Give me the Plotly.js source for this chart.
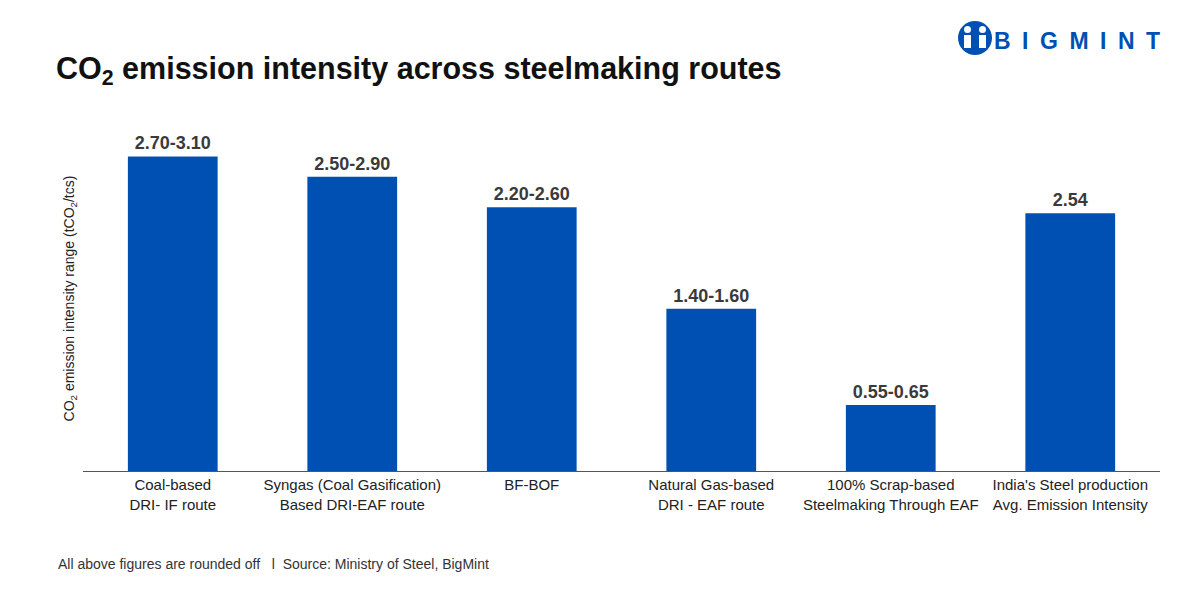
<!DOCTYPE html>
<html>
<head>
<meta charset="utf-8">
<script src="https://cdn.plot.ly/plotly-3.0.1.min.js"></script>
<style>
  body { margin: 0; background: #fff; }
  #chart { width: 1200px; height: 600px; }
</style>
</head>
<body>
<div id="chart"></div>
<script>
// routes and emission intensity (bar height = upper end of range)
var routes = [
  "Coal-based<br>DRI- IF route",
  "Syngas (Coal Gasification)<br>Based DRI-EAF route",
  "BF-BOF",
  "Natural Gas-based<br>DRI - EAF route",
  "100% Scrap-based<br>Steelmaking Through EAF",
  "India's Steel production<br>Avg. Emission Intensity"
];
var upperValues = [3.10, 2.90, 2.60, 1.60, 0.65, 2.54];
var rangeLabels = ["2.70-3.10", "2.50-2.90", "2.20-2.60", "1.40-1.60", "0.55-0.65", "2.54"];

var blue = '#0050b4';

var trace1 = {
  x: routes,
  y: upperValues,
  text: rangeLabels,
  type: 'bar',
  textposition: 'outside',
  texttemplate: '<b>%{text}</b>',
  textfont: { family: 'Liberation Sans, Arial, sans-serif', size: 18, color: '#3a3a3a' },
  cliponaxis: false,
  hovertemplate: '%{text} tCO2/tcs<extra></extra>',
  marker: { color: blue, line: { width: 0 } }
};

// helpers to place logo bits in pixel terms
var L = 83, R = 1160, T = 126, B = 471;
function px(x) { return (x - L) / (R - L); }
function py(y) { return (B - y) / (B - T); }

var layout = {
  width: 1200,
  height: 600,
  margin: { l: L, r: 1200 - R, t: T, b: 600 - B },
  paper_bgcolor: '#fff',
  plot_bgcolor: '#fff',
  bargap: 0.5,
  showlegend: false,
  font: { family: 'Liberation Sans, Arial, sans-serif', color: '#222' },
  title: {
    text: '<b>CO<sub>2</sub> emission intensity across steelmaking routes</b>',
    x: 56 / 1200,
    xanchor: 'left',
    y: 1 - 68 / 600,
    yanchor: 'middle',
    font: { family: 'Liberation Sans, Arial, sans-serif', size: 30.5, color: '#111' }
  },
  xaxis: {
    tickfont: { size: 15, color: '#222' },
    showline: true,
    linecolor: '#555',
    linewidth: 1,
    ticks: '',
    showgrid: false,
    zeroline: false
  },
  yaxis: {
    range: [0, 3.4],
    showticklabels: false,
    showgrid: false,
    zeroline: false,
    showline: false,
    ticks: '',
    title: {
      text: 'CO<sub>2</sub> emission intensity range (tCO<sub>2</sub>/tcs)',
      standoff: 4,
      font: { size: 14, color: '#222' }
    }
  },
  shapes: [
    { type: 'circle', xref: 'paper', yref: 'paper', x0: px(958), x1: px(992), y0: py(55), y1: py(21),
      fillcolor: blue, line: { width: 0 } },
    { type: 'circle', xref: 'paper', yref: 'paper', x0: px(964), x1: px(971), y0: py(33), y1: py(26),
      fillcolor: '#fff', line: { width: 0 } },
    { type: 'circle', xref: 'paper', yref: 'paper', x0: px(979), x1: px(986), y0: py(33), y1: py(26),
      fillcolor: '#fff', line: { width: 0 } },
    { type: 'rect', xref: 'paper', yref: 'paper', x0: px(964), x1: px(971), y0: py(48), y1: py(35),
      fillcolor: '#fff', line: { width: 0 } },
    { type: 'rect', xref: 'paper', yref: 'paper', x0: px(979), x1: px(986), y0: py(48), y1: py(35),
      fillcolor: '#fff', line: { width: 0 } }
  ],
  annotations: [
    {
      text: '<b>B\u2002I\u2002G\u2002M\u2002I\u2002N\u2002T</b>',
      xref: 'paper', yref: 'paper',
      x: px(992), y: py(41),
      xanchor: 'left', yanchor: 'middle',
      showarrow: false,
      font: { family: 'Liberation Sans, Arial, sans-serif', size: 23, color: blue }
    },
    {
      text: 'All above figures are rounded off  \u00a0l\u00a0 Source: Ministry of Steel, BigMint',
      xref: 'paper', yref: 'paper',
      x: px(56), y: py(564),
      xanchor: 'left', yanchor: 'middle',
      showarrow: false,
      font: { size: 14, color: '#333' }
    }
  ]
};

Plotly.newPlot('chart', [trace1], layout, { displayModeBar: false });
</script>
</body>
</html>
